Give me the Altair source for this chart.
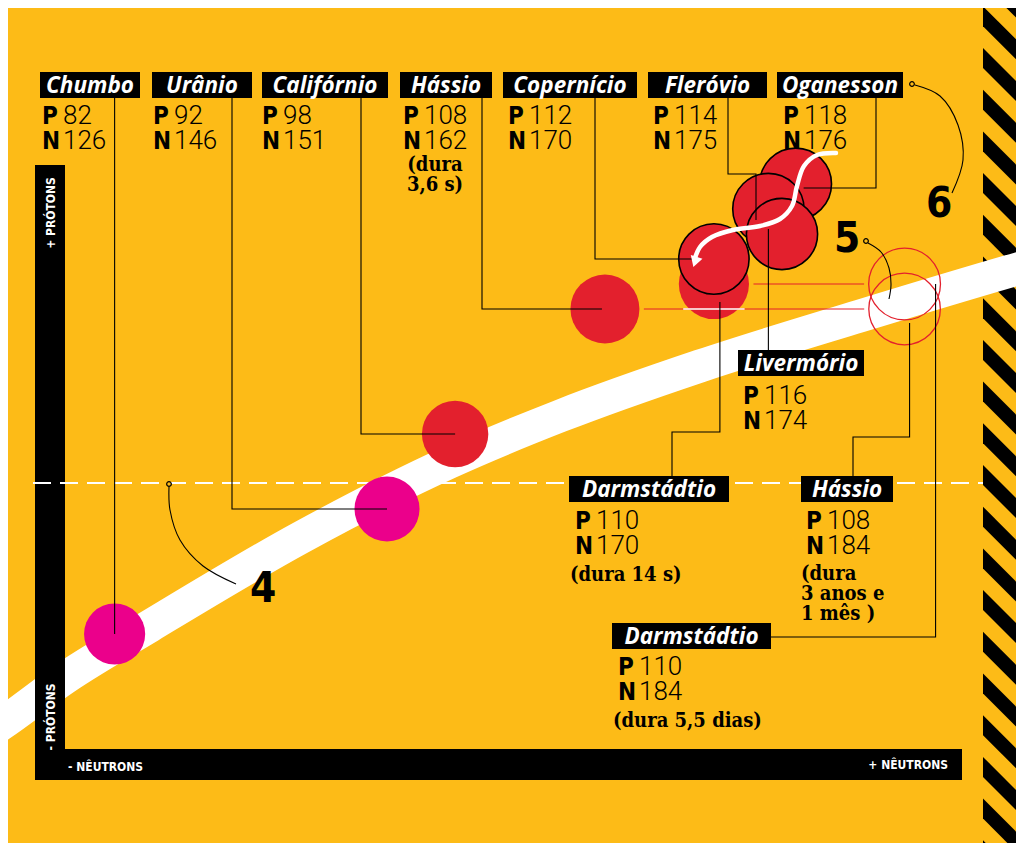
import math
import altair as alt
import pandas as pd

# ---------------- data ----------------
names = ["Chumbo", "Urânio", "Califórnio", "Hássio", "Darmstádtio",
         "Oganesson", "Livermório", "Fleróvio", "Copernício",
         "Hássio", "Darmstádtio"]
protons = [82, 92, 98, 108, 110, 118, 116, 114, 112, 108, 110]
neutrons = [126, 146, 151, 162, 170, 176, 174, 175, 170, 184, 184]
kinds = ["natural", "natural", "sintético", "sintético", "sintético",
         "superpesado", "superpesado", "superpesado", "superpesado",
         "previsto", "previsto"]
durations = ["", "", "", "(dura\n3,6 s)", "(dura 14 s)", "", "", "", "",
             "(dura\n3 anos e\n1 mês )", "(dura 5,5 dias)"]
callout_labels = ["4", "5", "6"]
axis_labels = ["+ PRÓTONS", "- PRÓTONS", "- NÊUTRONS", "+ NÊUTRONS"]

# ---------------- styles ----------------
YELLOW = "#FDBB17"
RED = "#E3202D"
MAGENTA = "#EB008B"
BLACK = "#000000"
WHITE = "#FFFFFF"
F_NAME = "Open Sans"
F_COND = "'Liberation Sans Narrow', 'DejaVu Sans Condensed', sans-serif"
F_NUM = "Roboto"
F_SERIF = "'DejaVu Serif Condensed', 'DejaVu Serif', serif"
F_AXIS = "'DejaVu Sans Condensed', 'DejaVu Sans', sans-serif"

# ---------------- scales: neutrons (x) and protons (y) ----------------
PX0, PXS = -1601.5, 13.62     # screen x of neutron count
PY0, PYS = 1659.0, 12.5       # screen y of proton count
W, H = 1008, 835


def X(px):
    return (px - PX0) / PXS


def Y(py):
    return (PY0 - py) / PYS


def PXN(n):
    return PX0 + PXS * n


def PYP(p):
    return PY0 - PYS * p


XS = alt.Scale(domain=[X(8), X(8 + W)], range=[0, W], nice=False, zero=False)
YS = alt.Scale(domain=[Y(8 + H), Y(8)], range=[H, 0], nice=False, zero=False)


def enc(xf="x", yf="y"):
    return {"x": alt.X(f"{xf}:Q", scale=XS, axis=None),
            "y": alt.Y(f"{yf}:Q", scale=YS, axis=None)}


SIZE_DOM = [208, 294]
SIZE_RNG = [3739, 5153]


def radius_px(a):
    area = SIZE_RNG[0] + (a - SIZE_DOM[0]) / (SIZE_DOM[1] - SIZE_DOM[0]) * (SIZE_RNG[1] - SIZE_RNG[0])
    return math.sqrt(area / math.pi)


el = pd.DataFrame({"name": names, "P": protons, "N": neutrons,
                   "kind": kinds, "dura": durations})
el["A"] = el["P"] + el["N"]
el["ex"] = [PXN(n) for n in el["N"]]
el["ey"] = [PYP(p) for p in el["P"]]

# ---------------- layout of annotations (reference pixels) ----------------
BOX = [(40, 140, 72), (152, 252, 72), (262, 388, 72), (400, 492, 72),
       (569, 729, 476), (777, 903, 72), (738, 864, 350), (648, 767, 72),
       (503, 637, 72), (801, 893, 476), (612, 771, 623)]
PN_AT = [(42, 124), (153, 124), (262, 124), (403, 124), (575, 529),
         (783, 124), (743, 404), (653, 124), (508, 124), (806, 529), (618, 675)]
DUR_AT = {3: (435, 171, "center"), 4: (570, 581, "left"),
          9: (801, 580, "left"), 10: (613, 727, "left")}
LEADERS = {
    0: [("e", 98), ("e", "e")],
    1: [(232, 98), (232, "e"), ("e", "e")],
    2: [(361, 98), (361, "e"), ("e", "e")],
    3: [(482, 98), (482, "e"), ("e-3", "e")],
    4: [(672, 476), (672, 432), ("e+6", 432), ("e+6", "e+18")],
    5: [(876, 98), (876, "e+4"), ("e+8", "e+4")],
    6: [("e", 350), ("e", "e+20")],
    7: [(728, 98), (728, 174), ("e-26", 174), ("e-26", "e-14")],
    8: [(595, 98), (595, "e"), ("e-15", "e")],
    9: [(853, 476), (853, 437), ("e+5", 437), ("e+5", "e+14")],
    10: [(771, 637), ("e+31", 637), ("e+31", "e")],
}


def spec(v, base):
    if isinstance(v, str):
        return base + (float(v[1:]) if len(v) > 1 else 0.0)
    return v


layers = []

# ---- hazard stripes on the right ----
rows = []
for k in range(-3, 21):
    t = 48 + 41.7 * k
    rows.append({"k": k, "x": X(983), "y": Y(t), "y2": Y(t + 20)})
    rows.append({"k": k, "x": X(1026), "y": Y(t + 43), "y2": Y(t + 63)})
layers.append(alt.Chart(pd.DataFrame(rows)).mark_area(color=BLACK, orient="vertical").encode(
    **enc(), y2=alt.Y2("y2:Q"), detail="k:N"))

# ---- white band (valley of stability) ----
band_px = [(-20, 738), (0, 725), (65, 678), (150, 626), (300, 538), (450, 462),
           (560, 416), (700, 366), (860, 316), (1024, 267), (1045, 261)]
band = pd.DataFrame({"x": [X(a) for a, b in band_px], "y": [Y(b) for a, b in band_px]})
layers.append(alt.Chart(band).mark_line(color=WHITE, strokeWidth=33, interpolate="monotone",
                                         strokeCap="butt").encode(**enc()))

# ---- axis bars ----
bars = pd.DataFrame({"x": [X(35), X(35)], "x2": [X(65), X(962)],
                     "y": [Y(165), Y(749)], "y2": [Y(780), Y(780)]})
layers.append(alt.Chart(bars).mark_rect(color=BLACK).encode(
    **enc(), x2=alt.X2("x2:Q"), y2=alt.Y2("y2:Q")))

# ---- dashed reference line ----
dash = pd.DataFrame({"x": [X(33)], "x2": [X(983)], "y": [Y(483)]})
layers.append(alt.Chart(dash).mark_rule(color=WHITE, strokeWidth=2, strokeDash=[18, 9]).encode(
    **enc(), x2=alt.X2("x2:Q")))

# ---- red lines joining isotopes of the same element ----
seg_rows, chord_rows = [], []
for (nm, p), g in el.groupby(["name", "P"]):
    if len(g) < 2:
        continue
    g = g.sort_values("N")
    a, b = g.iloc[0], g.iloc[-1]
    xs = a.ex + radius_px(a.A)
    xe = b.ex - radius_px(b.A)
    yy = a.ey
    seg_rows.append({"x": X(xs), "x2": X(xe), "y": Y(yy)})
    for i, r in el.iterrows():
        if r.kind == "previsto" or r["name"] == nm:
            continue
        rr = radius_px(r.A)
        dy = abs(r.ey - yy)
        if dy < rr and xs < r.ex < xe:
            h = math.sqrt(rr * rr - dy * dy)
            chord_rows.append({"x": X(max(r.ex - h, xs)), "x2": X(min(r.ex + h, xe)), "y": Y(yy)})
layers.append(alt.Chart(pd.DataFrame(seg_rows)).mark_rule(color=RED, strokeWidth=1.2).encode(
    **enc(), x2=alt.X2("x2:Q")))

# ---- element circles ----
elc = el.copy()
elc["x"] = [X(v) for v in elc.ex]
elc["y"] = [Y(v) for v in elc.ey]
size_enc = alt.Size("A:Q", scale=alt.Scale(domain=SIZE_DOM, range=SIZE_RNG), legend=None)
base = alt.Chart(elc)
layers.append(base.transform_filter(alt.FieldOneOfPredicate(field="kind", oneOf=["natural", "sintético"]))
              .mark_point(shape="circle", filled=True, opacity=1, strokeWidth=0)
              .encode(**enc(), size=size_enc,
                      fill=alt.Fill("kind:N", scale=alt.Scale(domain=["natural", "sintético"],
                                                              range=[MAGENTA, RED]), legend=None)))
layers.append(base.transform_filter(alt.FieldEqualPredicate(field="kind", equal="superpesado"))
              .mark_point(shape="circle", filled=True, opacity=1, fill=RED, stroke=BLACK,
                          strokeWidth=1.6, strokeOpacity=1)
              .encode(**enc(), size=size_enc))
layers.append(base.transform_filter(alt.FieldEqualPredicate(field="kind", equal="previsto"))
              .mark_point(shape="circle", filled=False, opacity=1, stroke=RED, strokeWidth=1.3)
              .encode(**enc(), size=size_enc))
if chord_rows:
    layers.append(alt.Chart(pd.DataFrame(chord_rows)).mark_rule(color=WHITE, strokeWidth=1.5).encode(
        **enc(), x2=alt.X2("x2:Q")))

# ---- leader lines ----
lrows = []
for i, pts in LEADERS.items():
    ex, ey = el.loc[i, "ex"], el.loc[i, "ey"]
    for j, (sx, sy) in enumerate(pts):
        lrows.append({"id": i, "i": j, "x": X(spec(sx, ex)), "y": Y(spec(sy, ey))})
layers.append(alt.Chart(pd.DataFrame(lrows)).mark_line(color=BLACK, strokeWidth=1.1).encode(
    **enc(), detail="id:N", order="i:Q"))

# ---- white arrow across the superheavy cluster ----
arrow_px = [(836, 153), (817, 155), (804, 166), (797, 186), (792, 206), (780, 219),
            (760, 226), (733, 230), (712, 237), (700, 247), (695, 258)]
arrow = pd.DataFrame({"i": range(len(arrow_px)), "x": [X(a) for a, b in arrow_px],
                      "y": [Y(b) for a, b in arrow_px]})
layers.append(alt.Chart(arrow).mark_line(color=WHITE, strokeWidth=4.5, interpolate="catmull-rom",
                                          strokeCap="round").encode(**enc(), order="i:Q"))
head = pd.DataFrame({"x": [X(695)], "y": [Y(262)]})
layers.append(alt.Chart(head).mark_point(shape="triangle-down", filled=True, fill=WHITE, opacity=1,
                                          size=150, angle=18, strokeWidth=0).encode(**enc()))

# ---- curved callouts 4, 5, 6 ----
curves = {0: [(169, 487), (170, 510), (180, 540), (203, 566), (236, 584)],
          1: [(868, 243), (881, 252), (889, 268), (891, 285), (889, 299)],
          2: [(915, 85), (940, 96), (958, 125), (963, 160), (952, 193)]}
crow = []
for c, pts in curves.items():
    for j, (a, b) in enumerate(pts):
        crow.append({"id": c, "i": j, "x": X(a), "y": Y(b)})
layers.append(alt.Chart(pd.DataFrame(crow)).mark_line(color=BLACK, strokeWidth=1.1,
                                                       interpolate="catmull-rom").encode(
    **enc(), detail="id:N", order="i:Q"))
dots = pd.DataFrame({"x": [X(169), X(866), X(912)], "y": [Y(484), Y(241), Y(84)]})
layers.append(alt.Chart(dots).mark_point(shape="circle", filled=False, fill=YELLOW, fillOpacity=1,
                                          stroke=BLACK, strokeWidth=1.2, size=22, opacity=1).encode(**enc()))
nums = pd.DataFrame({"t": callout_labels, "x": [X(250), X(834), X(926)],
                     "y": [Y(602), Y(252), Y(217)]})
layers.append(alt.Chart(nums).mark_text(font=F_COND, fontWeight="bold", fontSize=42, color=BLACK,
                                         align="left", baseline="alphabetic").encode(**enc(), text="t:N"))

# ---- name boxes and texts ----
brows, trows, pnl, pnv, dl, dc = [], [], [], [], [], []
for i in range(len(names)):
    x0, x1, y0 = BOX[i]
    brows.append({"x": X(x0), "x2": X(x1), "y": Y(y0), "y2": Y(y0 + 26)})
    trows.append({"t": names[i], "x": X((x0 + x1) / 2), "y": Y(y0 + 13.5)})
    px, pb = PN_AT[i]
    pnl.append({"t": "P", "x": X(px), "y": Y(pb)})
    pnl.append({"t": "N", "x": X(px), "y": Y(pb + 25)})
    pnv.append({"t": str(protons[i]), "x": X(px + 21), "y": Y(pb)})
    pnv.append({"t": str(neutrons[i]), "x": X(px + 21), "y": Y(pb + 25)})
    if durations[i]:
        dx, dy, al = DUR_AT[i]
        for j, line in enumerate(durations[i].split("\n")):
            (dc if al == "center" else dl).append({"t": line, "x": X(dx), "y": Y(dy + 20 * j)})

layers.append(alt.Chart(pd.DataFrame(brows)).mark_rect(color=BLACK).encode(
    **enc(), x2=alt.X2("x2:Q"), y2=alt.Y2("y2:Q")))
layers.append(alt.Chart(pd.DataFrame(trows)).mark_text(
    font=F_NAME, fontWeight="bold", fontStyle="italic", fontSize=22.5, color=WHITE,
    align="center", baseline="middle").encode(**enc(), text="t:N"))
layers.append(alt.Chart(pd.DataFrame(pnl)).mark_text(
    font=F_COND, fontWeight="bold", fontSize=24, color=BLACK,
    align="left", baseline="alphabetic").encode(**enc(), text="t:N"))
layers.append(alt.Chart(pd.DataFrame(pnv)).mark_text(
    font=F_NUM, fontWeight=300, fontSize=26, color=BLACK,
    align="left", baseline="alphabetic").encode(**enc(), text="t:N"))
layers.append(alt.Chart(pd.DataFrame(dl)).mark_text(
    font=F_SERIF, fontWeight="bold", fontSize=20, color=BLACK,
    align="left", baseline="alphabetic").encode(**enc(), text="t:N"))
layers.append(alt.Chart(pd.DataFrame(dc)).mark_text(
    font=F_SERIF, fontWeight="bold", fontSize=20, color=BLACK,
    align="center", baseline="alphabetic").encode(**enc(), text="t:N"))

# ---- axis captions ----
vert = pd.DataFrame({"t": axis_labels[:2], "x": [X(51), X(51)], "y": [Y(213), Y(717)]})
layers.append(alt.Chart(vert).mark_text(font=F_AXIS, fontWeight="bold", fontSize=12, color=WHITE,
                                         angle=270, align="center", baseline="middle").encode(
    **enc(), text="t:N"))
hl = pd.DataFrame({"t": [axis_labels[2]], "x": [X(68)], "y": [Y(767)]})
layers.append(alt.Chart(hl).mark_text(font=F_AXIS, fontWeight="bold", fontSize=12, color=WHITE,
                                       align="left", baseline="middle").encode(**enc(), text="t:N"))
hr = pd.DataFrame({"t": [axis_labels[3]], "x": [X(948)], "y": [Y(765)]})
layers.append(alt.Chart(hr).mark_text(font=F_AXIS, fontWeight="bold", fontSize=12, color=WHITE,
                                       align="right", baseline="middle").encode(**enc(), text="t:N"))

chart = alt.layer(*layers).properties(
    width=W, height=H, background=YELLOW, padding=0,
    autosize=alt.AutoSizeParams(type="none"),
).configure_view(stroke=None)

chart.save("out.html", embed_options={"renderer": "svg", "actions": False})
